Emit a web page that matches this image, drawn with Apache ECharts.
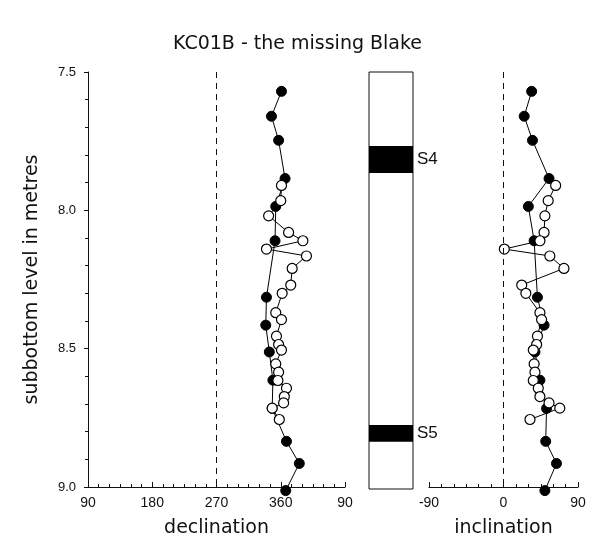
<!DOCTYPE html>
<html>
<head>
<meta charset="utf-8">
<script src="https://cdn.jsdelivr.net/npm/echarts@6/dist/echarts.min.js"></script>
<style>html,body{margin:0;padding:0;background:#fff}#c{width:595px;height:543px}</style>
</head>
<body>
<div id="c"></div>
<script>
// ---- data ----
var filledDepth = [7.57, 7.66, 7.747, 7.885, 7.986, 8.11, 8.314, 8.415, 8.512, 8.614, 8.716, 8.835, 8.915, 9.013];
var filledDec   = [361, 347, 357, 366, 353, 352, 340, 339, 344, 349, 348, 368, 386, 367];
var filledInc   = [34, 25, 35, 55, 30, 37, 41, 49, 38, 44, 52, 51, 64, 50];

var openDepth = [7.91, 7.965, 8.02, 8.08, 8.11, 8.14, 8.165, 8.21, 8.27, 8.30, 8.37, 8.395, 8.455, 8.485, 8.505, 8.555, 8.585, 8.615, 8.643, 8.673, 8.696, 8.715, 8.756];
var openDec   = [361, 360, 343, 371, 391, 340, 396, 376, 374, 362, 353, 361, 354, 357, 361, 353, 357, 356, 368, 365, 364, 348, 358];
var openInc   = [63, 54, 50, 49, 44, 1, 56, 73, 22, 27, 44, 46, 41, 40, 36, 37, 38, 36, 42, 44, 55, 68, 32];

var bandNames = ['S4', 'S5'];
var bandTop    = [7.766, 8.77];
var bandBottom = [7.863, 8.83];

var decTicks = [90, 180, 270, 360, 450];
var incTicks = [-90, 0, 90];
var depthTicks = [7.5, 8.0, 8.5, 9.0];

function pairs(xs, ys) { return xs.map(function (v, i) { return [v, ys[i]]; }); }

var FONT = 'Liberation Sans';
var WIDE = 'DejaVu Sans';
var chart = echarts.init(document.getElementById('c'), null, { renderer: 'canvas' });

var dotSize = 10;
function lineSeries(name, xi, yi, data, filled) {
  return {
    name: name, type: 'line', xAxisIndex: xi, yAxisIndex: yi, data: data,
    symbol: 'circle', symbolSize: dotSize, clip: false, animation: false,
    lineStyle: { color: '#000', width: 1 },
    itemStyle: filled ? { color: '#000', borderColor: '#000', borderWidth: 1 }
                      : { color: '#fff', borderColor: '#000', borderWidth: 1.2 },
    z: filled ? 3 : 4
  };
}

var yBase = {
  type: 'value', min: depthTicks[0], max: depthTicks[depthTicks.length - 1], interval: 0.5, inverse: true,
  splitLine: { show: false }
};

var option = {
  animation: false,
  backgroundColor: '#fff',
  title: {
    text: 'KC01B - the missing Blake', left: 'center', top: 30,
    textStyle: { fontFamily: WIDE, fontSize: 19, fontWeight: 'normal', color: '#111' }
  },
  grid: [
    { left: 88, width: 257, top: 72, height: 417 },
    { left: 369, width: 44, top: 72, height: 417, show: true, borderColor: '#111', borderWidth: 1, backgroundColor: 'transparent' },
    { left: 429, width: 149, top: 72, height: 417 }
  ],
  xAxis: [
    {
      gridIndex: 0, type: 'value', min: decTicks[0], max: decTicks[decTicks.length - 1], interval: 90,
      name: 'declination', nameLocation: 'middle', nameGap: 32,
      nameTextStyle: { fontFamily: WIDE, fontSize: 19, color: '#111' },
      axisLine: { lineStyle: { color: '#111', width: 1 } },
      axisTick: { show: true, inside: true, length: 5, lineStyle: { color: '#111' } },
      minorTick: { show: true, splitNumber: 6, length: 3, lineStyle: { color: '#111' } },
      axisLabel: { fontFamily: FONT, fontSize: 14, color: '#111', margin: 9,
        formatter: function (v) { return String(v > 360 ? v - 360 : v); } },
      splitLine: { show: false }
    },
    {
      gridIndex: 1, type: 'value', min: 0, max: 1, show: false
    },
    {
      gridIndex: 2, type: 'value', min: incTicks[0], max: incTicks[incTicks.length - 1], interval: 90,
      name: 'inclination', nameLocation: 'middle', nameGap: 32,
      nameTextStyle: { fontFamily: WIDE, fontSize: 19, color: '#111' },
      axisLine: { onZero: false, lineStyle: { color: '#111', width: 1 } },
      axisTick: { show: true, inside: true, length: 5, lineStyle: { color: '#111' } },
      minorTick: { show: true, splitNumber: 6, length: 3, lineStyle: { color: '#111' } },
      axisLabel: { fontFamily: FONT, fontSize: 14, color: '#111', margin: 9 },
      splitLine: { show: false }
    }
  ],
  yAxis: [
    Object.assign({}, yBase, {
      gridIndex: 0,
      name: 'subbottom level in metres', nameLocation: 'middle', nameGap: 46, nameRotate: 90,
      nameTextStyle: { fontFamily: WIDE, fontSize: 19, color: '#111' },
      axisLine: { show: true, onZero: false, lineStyle: { color: '#111', width: 1 } },
      axisTick: { show: true, inside: false, length: 4, lineStyle: { color: '#111' } },
      minorTick: { show: true, splitNumber: 5, length: 3, lineStyle: { color: '#111' } },
      axisLabel: { fontFamily: FONT, fontSize: 13, color: '#111', margin: 12,
        formatter: function (v) { return v.toFixed(1); } }
    }),
    Object.assign({}, yBase, { gridIndex: 1, show: false }),
    Object.assign({}, yBase, { gridIndex: 2, show: false })
  ],
  series: [
    Object.assign(lineSeries('decFilled', 0, 0, pairs(filledDec, filledDepth), true), {
      markLine: {
        silent: true, symbol: 'none', animation: false,
        label: { show: false },
        lineStyle: { type: [6, 5], color: '#111', width: 1 },
        data: [{ xAxis: 270 }]
      }
    }),
    lineSeries('decOpen', 0, 0, pairs(openDec, openDepth), false),
    Object.assign(lineSeries('incFilled', 2, 2, pairs(filledInc, filledDepth), true), {
      markLine: {
        silent: true, symbol: 'none', animation: false,
        label: { show: false },
        lineStyle: { type: [6, 5], color: '#111', width: 1 },
        data: [{ xAxis: 0 }]
      }
    }),
    lineSeries('incOpen', 2, 2, pairs(openInc, openDepth), false),
    {
      type: 'custom', xAxisIndex: 1, yAxisIndex: 1, animation: false, clip: false,
      data: bandNames.map(function (n, i) { return [bandTop[i], bandBottom[i], n]; }),
      renderItem: function (params, api) {
        var p1 = api.coord([0, api.value(0)]);
        var p2 = api.coord([1, api.value(1)]);
        return {
          type: 'group',
          children: [
            { type: 'rect', shape: { x: p1[0], y: p1[1], width: p2[0] - p1[0], height: p2[1] - p1[1] },
              style: { fill: '#000' } },
            { type: 'text', x: p2[0] + 4, y: (p1[1] + p2[1]) / 2,
              style: { text: api.value(2), fill: '#111', font: '17px "' + FONT + '"', verticalAlign: 'middle', align: 'left' } }
          ]
        };
      }
    }
  ]
};
chart.setOption(option);
</script>
</body>
</html>
